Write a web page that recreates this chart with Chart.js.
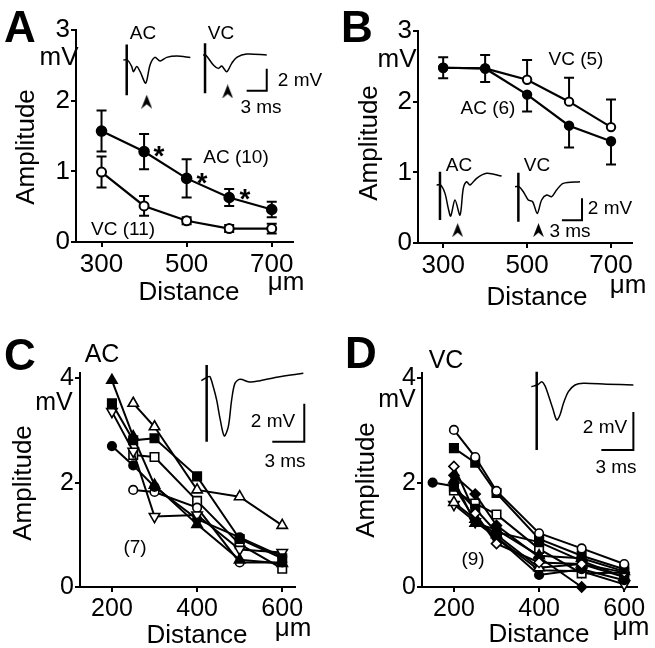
<!DOCTYPE html>
<html>
<head>
<meta charset="utf-8">
<script src="https://cdn.jsdelivr.net/npm/chart.js@4.4.1/dist/chart.umd.min.js"></script>
<style>
html, body { margin: 0; padding: 0; background: #fff; }
#wrap { position: relative; width: 655px; height: 648px; }
#wrap canvas { position: absolute; left: 0; top: 0; }
</style>
</head>
<body>
<div id="wrap">
  <canvas id="panelA" width="655" height="648"></canvas>
  <canvas id="panelB" width="655" height="648"></canvas>
  <canvas id="panelC" width="655" height="648"></canvas>
  <canvas id="panelD" width="655" height="648"></canvas>
</div>
<script>
const FONT = '"Liberation Sans", Arial, Helvetica, sans-serif';

// ---- panels A and B: mean amplitude (mV) vs distance (um) ----
const distAB = [300, 400, 500, 600, 700];
const acA    = [1.57, 1.28, 0.90, 0.63, 0.46];
const acAErr = [0.29, 0.25, 0.27, 0.12, 0.11];
const vcA    = [0.99, 0.51, 0.30, 0.19, 0.19];
const vcAErr = [0.22, 0.14, 0.05, 0.05, 0.07];

const acB    = [2.48, 2.47, 2.10, 1.66, 1.44];
const acBErr = [0.15, 0.19, 0.24, 0.31, 0.33];
const vcB    = [2.48, 2.47, 2.31, 2.00, 1.64];
const vcBErr = [0.15, 0.19, 0.28, 0.34, 0.39];

const xTicksAB = [300, 500, 700];
const yTicksAB = [0, 1, 2, 3];

// ---- panel C: individual AC cells (7) ----
const distC        = [200, 250, 300, 400, 500, 600];
const cFilledTri   = [3.96, 2.88, 1.95, 1.20, 0.52, 0.45];
const cFilledSq    = [3.52, 2.81, 2.85, 2.12, 0.92, 0.55];
const cOpenDownTri = [3.36, 2.60, 1.35, 1.38, 0.72, 0.66];
const cFilledCirc  = [2.70, 2.33, 1.92, 1.30, 0.95, 0.58];
const cOpenCirc    = [null, 1.86, 1.82, 1.52, 0.47, 0.47];
const cOpenTri     = [null, 3.52, 3.07, 1.86, 1.73, 1.18];
const cOpenSq      = [null, 2.53, 2.49, 1.65, 0.82, 0.35];

// ---- panel D: individual VC cells (9) ----
const distD        = [150, 200, 250, 300, 400, 500, 600];
const dOpenCirc    = [null, 3.01, 2.49, 1.84, 1.03, 0.74, 0.44];
const dFilledSq    = [null, 2.66, 2.38, 1.80, 0.92, 0.60, 0.34];
const dOpenDiam    = [null, 2.31, 1.41, 0.83, 0.47, 0.44, 0.28];
const dFilledDiam  = [null, 2.14, 1.78, 1.18, 0.57, 0.00, null];
const dFilledTri   = [null, 2.05, 1.22, 1.10, 0.60, 0.55, 0.30];
const dFilledSq2   = [null, 1.92, 1.50, 1.05, 0.86, 0.50, 0.19];
const dFilledCirc  = [2.00, 1.93, 1.28, 0.95, 0.23, 0.34, 0.13];
const dOpenSq      = [null, 1.85, 1.60, 1.39, 0.73, 0.26, 0.28];
const dOpenTri     = [null, 1.62, 1.30, 1.00, 0.37, 0.44, 0.19];
const dOpenDownTri = [null, 1.58, 1.25, 0.95, 0.32, 0.30, 0.05];

const xTicksCD = [200, 400, 600];
const yTicksCD = [0, 2, 4];

// ---- inset traces: time (ms) vs voltage (mV) ----
const trAacT = [-0.5, 0.1, 0.75, 1.0, 1.5, 2.0, 2.84, 3.48, 4.2, 4.98, 5.97, 7.5, 9.5];
const trAacV = [0, 0, -0.6, -1.06, -0.6, -1.06, -2.1, -0.45, 0.24, -0.09, 0.24, 0.36, 0.24];
const trAvcT = [11.4, 11.8, 12.93, 13.67, 14.18, 14.93, 15.67, 16.42, 17.9, 20.9];
const trAvcV = [0.45, 0.45, -0.45, -0.76, -0.55, -1.06, -0.3, 0.24, 0.55, 0.45];
const stimAacV = [1.4, -3.2];
const stimAvcV = [1.52, -3.03];
const stimAT = [0, 11.69];
// scale bars listed from the top of the vertical arm back to the left end
const barAT = [20.9, 20.9, 17.9];
const barAV = [-0.8, -2.8, -2.8];
const arrowAT = [2.99, 15.07];
const arrowAV = [-3.79, -2.86];

const trBacT = [-0.5, 0.1, 0.75, 1.24, 1.6, 2.24, 2.99, 3.48, 3.98, 4.48, 5.47, 6.97, 9.2];
const trBacV = [0, 0, -0.76, -2.12, -2.82, -1.36, -2.73, -0.3, 0.3, 0, 0.61, 1.06, 0.82];
const trBvcT = [11.2, 11.8, 12.44, 13.18, 13.83, 14.52, 15.17, 15.92, 16.67, 17.4, 18.4, 20.9];
const trBvcV = [-0.15, -0.15, -0.61, -1.36, -1.52, -2.58, -1.36, -0.91, -1.06, -0.45, 0.15, 0.3];
const stimBacV = [1.21, -3.18];
const stimBvcV = [1.12, -3.33];
const stimBT = [0, 11.7];
const barBT = [21.2, 21.2, 18.2];
const barBV = [-1.2, -3.2, -3.2];
const arrowBT = [2.64, 14.7];
const arrowBV = [-4.1, -4.1];

const trCT = [-0.5, 0.1, 0.31, 0.62, 0.94, 1.25, 1.65, 2.03, 2.34, 2.65, 3.12, 4.06, 5.0, 6.56, 9.06];
const trCV = [0, 0.2, 0.21, -0.32, -1.02, -1.98, -2.91, -2.42, -1.02, -0.14, 0.07, -0.07, 0, 0.18, 0.39];
const stimCV = [0.83, -3.21];
const barCT = [9.15, 9.15, 6.15];
const barCV = [-1.21, -3.21, -3.21];

const trDT = [-0.5, 0.1, 0.47, 0.78, 1.09, 1.5, 1.87, 2.18, 2.5, 2.97, 3.59, 4.37, 6.56, 9.06];
const trDV = [0, 0.1, 0.26, 0.04, -0.44, -1.14, -1.75, -1.49, -0.88, -0.26, 0.09, 0.18, 0.13, 0.09];
const stimDV = [0.79, -3.33];
const barDT = [9.06, 9.06, 6.06];
const barDV = [-1.33, -3.33, -3.33];

// arrowhead marker
const arrowImg = document.createElement('canvas');
arrowImg.width = 11; arrowImg.height = 14;
(function () {
    const a = arrowImg.getContext('2d');
    a.fillStyle = '#000';
    a.beginPath();
    a.moveTo(5.5, 0); a.lineTo(11, 14); a.lineTo(5.5, 9.5); a.lineTo(0, 14);
    a.closePath(); a.fill();
})();

function pts(xs, ys) {
    return xs.map((x, i) => ({ x: x, y: ys[i] })).filter(p => p.y !== null);
}

// marker looks for the individual-cell panels
const MARK = {
    filledCirc:  { style: 'circle',   fill: true,  r: 4.3 },
    openCirc:    { style: 'circle',   fill: false, r: 4.3 },
    filledSq:    { style: 'rect',     fill: true,  r: 6 },
    openSq:      { style: 'rect',     fill: false, r: 6 },
    filledTri:   { style: 'triangle', fill: true,  r: 6 },
    openTri:     { style: 'triangle', fill: false, r: 6 },
    openDownTri: { style: 'triangle', fill: false, r: 6, rot: 180 },
    filledDiam:  { style: 'rectRot',  fill: true,  r: 5 },
    openDiam:    { style: 'rectRot',  fill: false, r: 5 }
};

function cellSeries(xs, ys, mark) {
    const m = MARK[mark];
    return {
        data: pts(xs, ys), xAxisID: 'x', yAxisID: 'y',
        borderColor: '#000', borderWidth: 2, tension: 0,
        pointStyle: m.style, pointRotation: m.rot || 0, pointRadius: m.r,
        pointBackgroundColor: m.fill ? '#000' : '#fff',
        pointBorderColor: '#000', pointBorderWidth: 1.6, clip: false
    };
}

function meanSeries(xs, ys, errs, dir, filled, r) {
    return {
        data: pts(xs, ys), errors: errs, errDir: dir, xAxisID: 'x', yAxisID: 'y',
        borderColor: '#000', borderWidth: 2.2, tension: 0,
        pointStyle: 'circle', pointRadius: r,
        pointBackgroundColor: filled ? '#000' : '#fff',
        pointBorderColor: '#000', pointBorderWidth: 2, clip: false
    };
}

function trace(ts, vs, width, tension) {
    return {
        data: pts(ts, vs), xAxisID: 'ix', yAxisID: 'iy',
        borderColor: '#000', borderWidth: width, tension: tension,
        pointRadius: 0, clip: false
    };
}

function stim(t, vs) {
    return trace([t, t], vs, 2.5, 0);
}

function arrows(ts, vs) {
    return {
        data: pts(ts, vs), xAxisID: 'ix', yAxisID: 'iy', showLine: false,
        pointStyle: arrowImg, pointRadius: 7, clip: false
    };
}

const errorBars = {
    id: 'errorBars',
    beforeDatasetsDraw(chart) {
        const ctx = chart.ctx;
        chart.data.datasets.forEach((ds, di) => {
            if (!ds.errors) return;
            const meta = chart.getDatasetMeta(di);
            const ys = chart.scales[meta.yAxisID];
            ctx.save();
            ctx.strokeStyle = '#000';
            ctx.lineWidth = 2;
            meta.data.forEach((pt, i) => {
                const v = ds.data[i].y, e = ds.errors[i];
                const top = ys.getPixelForValue(v + e);
                const bot = ys.getPixelForValue(v - e);
                const y0 = ds.errDir === 'down' ? pt.y : top;
                const y1 = ds.errDir === 'up' ? pt.y : bot;
                ctx.beginPath();
                ctx.moveTo(pt.x, y0); ctx.lineTo(pt.x, y1);
                if (ds.errDir !== 'down') { ctx.moveTo(pt.x - 5, top); ctx.lineTo(pt.x + 5, top); }
                if (ds.errDir !== 'up') { ctx.moveTo(pt.x - 5, bot); ctx.lineTo(pt.x + 5, bot); }
                ctx.stroke();
            });
            ctx.restore();
        });
    }
};

function textPlugin(items) {
    return {
        id: 'panelText',
        afterDraw(chart) {
            const ctx = chart.ctx;
            ctx.save();
            ctx.fillStyle = '#000';
            ctx.textAlign = 'center';
            ctx.textBaseline = 'alphabetic';
            items.forEach(it => {
                ctx.font = (it.b ? 'bold ' : '') + it.s + 'px ' + FONT;
                if (it.r) {
                    ctx.save();
                    ctx.translate(it.x, it.y);
                    ctx.rotate(-Math.PI / 2);
                    ctx.fillText(it.t, 0, 0);
                    ctx.restore();
                } else {
                    ctx.fillText(it.t, it.x, it.y);
                }
            });
            ctx.restore();
        }
    };
}

function axis(range, ticks, size, horiz) {
    return {
        type: 'linear', position: horiz ? 'bottom' : 'left',
        min: range[0], max: range[1],
        afterBuildTicks: s => { s.ticks = ticks.map(v => ({ value: v })); },
        afterFit: s => { if (horiz) s.height = 40; else s.width = 50; },
        grid: { drawOnChartArea: false, drawTicks: true, tickLength: 5, color: '#000', lineWidth: 2 },
        border: { display: true, color: '#000', width: 2 },
        ticks: { color: '#000', font: { family: FONT, size: size }, padding: horiz ? 2 : 1,
                 autoSkip: false, maxRotation: 0 }
    };
}

function panel(id, area, xr, yr, xt, yt, tickSize, inset, datasets, texts) {
    return new Chart(document.getElementById(id), {
        type: 'line',
        data: { datasets: datasets },
        options: {
            responsive: false, animation: false, devicePixelRatio: 1, events: [],
            layout: { padding: { left: area.l - 50, top: area.t, right: 655 - area.r, bottom: 648 - area.b - 40 } },
            plugins: { legend: { display: false }, tooltip: { enabled: false } },
            scales: {
                x: axis(xr, xt, tickSize, true),
                y: axis(yr, yt, tickSize, false),
                ix: { type: 'linear', display: false, position: 'bottom', min: inset.x[0], max: inset.x[1] },
                iy: { type: 'linear', display: false, position: 'left', min: inset.y[0], max: inset.y[1] }
            }
        },
        plugins: [errorBars, textPlugin(texts)]
    });
}

// ---- A ----
panel('panelA', { l: 76, t: 30, r: 293, b: 242 }, [240, 750], [0, 3], xTicksAB, yTicksAB, 26,
    { x: [-7.57, 24.82], y: [-16.55, 2.73] },
    [
        meanSeries(distAB, acA, acAErr, 'both', true, 4.8),
        meanSeries(distAB, vcA, vcAErr, 'both', false, 4.5),
        trace(trAacT, trAacV, 1.5, 0.3),
        trace(trAvcT, trAvcV, 1.5, 0.3),
        stim(stimAT[0], stimAacV),
        stim(stimAT[1], stimAvcV),
        trace(barAT, barAV, 2, 0),
        arrows(arrowAT, arrowAV)
    ],
    [
        { t: 'A', x: 20, y: 42, s: 44, b: true },
        { t: 'mV', x: 59, y: 65, s: 26 },
        { t: 'Amplitude', x: 34, y: 147, s: 26, r: true },
        { t: 'Distance', x: 189, y: 300, s: 26 },
        { t: 'μm', x: 286, y: 290, s: 26 },
        { t: 'AC', x: 143, y: 39, s: 19 },
        { t: 'VC', x: 221, y: 39, s: 19 },
        { t: '2 mV', x: 300, y: 86, s: 19 },
        { t: '3 ms', x: 261, y: 113, s: 19 },
        { t: 'AC (10)', x: 236, y: 163, s: 19 },
        { t: 'VC (11)', x: 123, y: 235, s: 19 },
        { t: '*', x: 159, y: 165, s: 28, b: true },
        { t: '*', x: 202, y: 192, s: 28, b: true },
        { t: '*', x: 245, y: 208, s: 28, b: true }
    ]);

// ---- B ----
panel('panelB', { l: 418, t: 31, r: 632, b: 243 }, [240, 750], [0, 3], xTicksAB, yTicksAB, 26,
    { x: [-3.28, 28.66], y: [-5.27, 14.0] },
    [
        meanSeries(distAB, acB, acBErr, 'down', true, 4.2),
        meanSeries(distAB, vcB, vcBErr, 'up', false, 4.2),
        trace(trBacT, trBacV, 1.5, 0.3),
        trace(trBvcT, trBvcV, 1.5, 0.3),
        stim(stimBT[0], stimBacV),
        stim(stimBT[1], stimBvcV),
        trace(barBT, barBV, 2, 0),
        arrows(arrowBT, arrowBV)
    ],
    [
        { t: 'B', x: 357, y: 42, s: 44, b: true },
        { t: 'mV', x: 397, y: 67, s: 26 },
        { t: 'Amplitude', x: 377, y: 143, s: 26, r: true },
        { t: 'Distance', x: 537, y: 305, s: 26 },
        { t: 'μm', x: 628, y: 293, s: 26 },
        { t: 'VC (5)', x: 576, y: 65, s: 19 },
        { t: 'AC (6)', x: 488, y: 114, s: 19 },
        { t: 'AC', x: 459, y: 171, s: 19 },
        { t: 'VC', x: 537, y: 171, s: 19 },
        { t: '2 mV', x: 610, y: 214, s: 19 },
        { t: '3 ms', x: 570, y: 237, s: 19 }
    ]);

// ---- C ----
panel('panelC', { l: 80, t: 373, r: 295, b: 587 }, [125, 630], [0, 4.1], xTicksCD, yTicksCD, 25,
    { x: [-11.87, 8.28], y: [-10.86, 0.405] },
    [
        cellSeries(distC, cFilledTri, 'filledTri'),
        cellSeries(distC, cFilledSq, 'filledSq'),
        cellSeries(distC, cOpenDownTri, 'openDownTri'),
        cellSeries(distC, cFilledCirc, 'filledCirc'),
        cellSeries(distC, cOpenCirc, 'openCirc'),
        cellSeries(distC, cOpenTri, 'openTri'),
        cellSeries(distC, cOpenSq, 'openSq'),
        trace(trCT, trCV, 1.5, 0.3),
        stim(0, stimCV),
        trace(barCT, barCV, 2, 0)
    ],
    [
        { t: 'C', x: 20, y: 370, s: 44, b: true },
        { t: 'AC', x: 102, y: 362, s: 25 },
        { t: 'mV', x: 54, y: 410, s: 25 },
        { t: 'Amplitude', x: 31, y: 483, s: 26, r: true },
        { t: '(7)', x: 135, y: 553, s: 19 },
        { t: 'Distance', x: 197, y: 643, s: 26 },
        { t: 'μm', x: 293, y: 636, s: 26 },
        { t: '2 mV', x: 273, y: 427, s: 19 },
        { t: '3 ms', x: 285, y: 467, s: 19 }
    ]);

// ---- D ----
panel('panelD', { l: 422, t: 373, r: 637, b: 587 }, [125, 630], [0, 4.1], xTicksCD, yTicksCD, 25,
    { x: [-10.75, 9.4], y: [-10.54, 0.72] },
    [
        cellSeries(distD, dOpenCirc, 'openCirc'),
        cellSeries(distD, dFilledSq, 'filledSq'),
        cellSeries(distD, dOpenDiam, 'openDiam'),
        cellSeries(distD, dFilledDiam, 'filledDiam'),
        cellSeries(distD, dFilledTri, 'filledTri'),
        cellSeries(distD, dFilledSq2, 'filledSq'),
        cellSeries(distD, dFilledCirc, 'filledCirc'),
        cellSeries(distD, dOpenSq, 'openSq'),
        cellSeries(distD, dOpenTri, 'openTri'),
        cellSeries(distD, dOpenDownTri, 'openDownTri'),
        trace(trDT, trDV, 1.5, 0.3),
        stim(0, stimDV),
        trace(barDT, barDV, 2, 0)
    ],
    [
        { t: 'D', x: 361, y: 368, s: 44, b: true },
        { t: 'VC', x: 446, y: 368, s: 25 },
        { t: 'mV', x: 397, y: 407, s: 25 },
        { t: 'Amplitude', x: 374, y: 480, s: 26, r: true },
        { t: '(9)', x: 473, y: 565, s: 19 },
        { t: 'Distance', x: 539, y: 642, s: 26 },
        { t: 'μm', x: 631, y: 635, s: 26 },
        { t: '2 mV', x: 605, y: 433, s: 19 },
        { t: '3 ms', x: 616, y: 473, s: 19 }
    ]);
</script>
</body>
</html>
